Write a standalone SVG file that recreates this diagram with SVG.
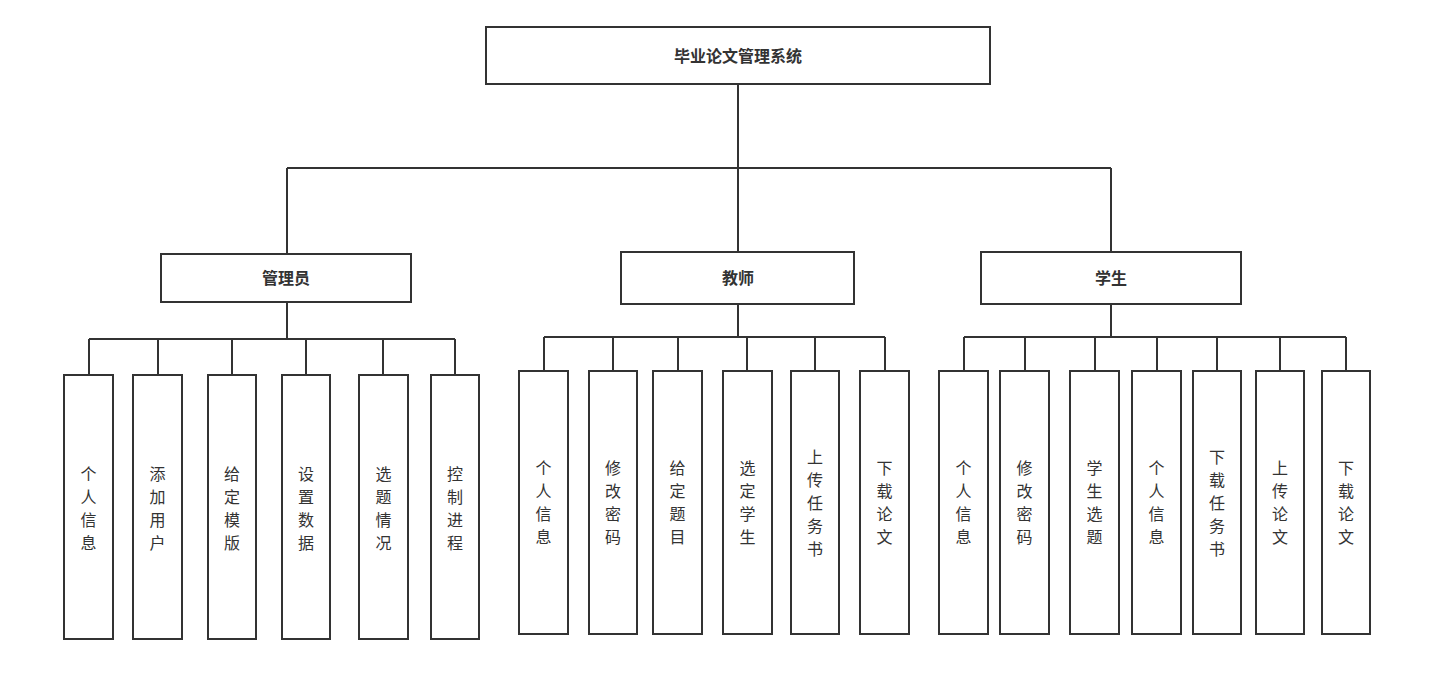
<svg xmlns="http://www.w3.org/2000/svg" width="1442" height="681" viewBox="0 0 1442 681">
<style>
  .box { fill: #ffffff; stroke: #333333; stroke-width: 2; }
  .line { fill: none; stroke: #333333; stroke-width: 2; }
  .title { font-family: "Liberation Sans", "Noto Sans CJK SC", sans-serif; font-size: 16px; font-weight: bold; fill: #333333; text-anchor: middle; dominant-baseline: central; }
  .leaf { font-family: "Liberation Sans", "Noto Sans CJK SC", sans-serif; font-size: 16px; fill: #333333; text-anchor: middle; dominant-baseline: central; }
</style>
<rect width="1442" height="681" fill="#ffffff"/>
<g id="connectors" class="line">
  <path d="M738 84 V168 M287 168 H1111 M287 168 V254 M738 168 V252 M1111 168 V252"/>
  <path d="M287 302 V339 M89 339 H455 M89 339 V375 M158 339 V375 M232 339 V375 M306 339 V375 M383 339 V375 M455 339 V375"/>
  <path d="M738 304 V337 M544 337 H885 M544 337 V371 M613 337 V371 M678 337 V371 M747 337 V371 M815 337 V371 M885 337 V371"/>
  <path d="M1111 304 V337 M964 337 H1346 M964 337 V371 M1025 337 V371 M1095 337 V371 M1157 337 V371 M1217 337 V371 M1280 337 V371 M1346 337 V371"/>
</g>
<g id="root">
  <rect class="box" x="486" y="27" width="504" height="57"/>
  <text class="title" x="738" y="56">毕业论文管理系统</text>
</g>
<g id="admin">
  <rect class="box" x="161" y="254" width="250" height="48"/>
  <text class="title" x="286" y="278">管理员</text>
</g>
<g id="teacher">
  <rect class="box" x="621" y="252" width="233" height="52"/>
  <text class="title" x="738" y="278">教师</text>
</g>
<g id="student">
  <rect class="box" x="981" y="252" width="260" height="52"/>
  <text class="title" x="1111" y="278">学生</text>
</g>
<g id="admin-1"><rect class="box" x="64" y="375" width="49" height="264"/><text class="leaf"><tspan x="88.5" y="473.5">个</tspan><tspan x="88.5" y="496.5">人</tspan><tspan x="88.5" y="519.5">信</tspan><tspan x="88.5" y="542.5">息</tspan></text></g>
<g id="admin-2"><rect class="box" x="133" y="375" width="49" height="264"/><text class="leaf"><tspan x="157.5" y="473.5">添</tspan><tspan x="157.5" y="496.5">加</tspan><tspan x="157.5" y="519.5">用</tspan><tspan x="157.5" y="542.5">户</tspan></text></g>
<g id="admin-3"><rect class="box" x="208" y="375" width="48" height="264"/><text class="leaf"><tspan x="232" y="473.5">给</tspan><tspan x="232" y="496.5">定</tspan><tspan x="232" y="519.5">模</tspan><tspan x="232" y="542.5">版</tspan></text></g>
<g id="admin-4"><rect class="box" x="282" y="375" width="48" height="264"/><text class="leaf"><tspan x="306" y="473.5">设</tspan><tspan x="306" y="496.5">置</tspan><tspan x="306" y="519.5">数</tspan><tspan x="306" y="542.5">据</tspan></text></g>
<g id="admin-5"><rect class="box" x="359" y="375" width="49" height="264"/><text class="leaf"><tspan x="383.5" y="473.5">选</tspan><tspan x="383.5" y="496.5">题</tspan><tspan x="383.5" y="519.5">情</tspan><tspan x="383.5" y="542.5">况</tspan></text></g>
<g id="admin-6"><rect class="box" x="431" y="375" width="48" height="264"/><text class="leaf"><tspan x="455" y="473.5">控</tspan><tspan x="455" y="496.5">制</tspan><tspan x="455" y="519.5">进</tspan><tspan x="455" y="542.5">程</tspan></text></g>
<g id="teacher-1"><rect class="box" x="519" y="371" width="49" height="263"/><text class="leaf"><tspan x="543.5" y="468">个</tspan><tspan x="543.5" y="491">人</tspan><tspan x="543.5" y="514">信</tspan><tspan x="543.5" y="537">息</tspan></text></g>
<g id="teacher-2"><rect class="box" x="589" y="371" width="48" height="263"/><text class="leaf"><tspan x="613" y="468">修</tspan><tspan x="613" y="491">改</tspan><tspan x="613" y="514">密</tspan><tspan x="613" y="537">码</tspan></text></g>
<g id="teacher-3"><rect class="box" x="653" y="371" width="49" height="263"/><text class="leaf"><tspan x="677.5" y="468">给</tspan><tspan x="677.5" y="491">定</tspan><tspan x="677.5" y="514">题</tspan><tspan x="677.5" y="537">目</tspan></text></g>
<g id="teacher-4"><rect class="box" x="723" y="371" width="49" height="263"/><text class="leaf"><tspan x="747.5" y="468">选</tspan><tspan x="747.5" y="491">定</tspan><tspan x="747.5" y="514">学</tspan><tspan x="747.5" y="537">生</tspan></text></g>
<g id="teacher-5"><rect class="box" x="791" y="371" width="48" height="263"/><text class="leaf"><tspan x="815" y="456.5">上</tspan><tspan x="815" y="479.5">传</tspan><tspan x="815" y="502.5">任</tspan><tspan x="815" y="525.5">务</tspan><tspan x="815" y="548.5">书</tspan></text></g>
<g id="teacher-6"><rect class="box" x="860" y="371" width="49" height="263"/><text class="leaf"><tspan x="884.5" y="468">下</tspan><tspan x="884.5" y="491">载</tspan><tspan x="884.5" y="514">论</tspan><tspan x="884.5" y="537">文</tspan></text></g>
<g id="student-1"><rect class="box" x="939" y="371" width="49" height="263"/><text class="leaf"><tspan x="963.5" y="468">个</tspan><tspan x="963.5" y="491">人</tspan><tspan x="963.5" y="514">信</tspan><tspan x="963.5" y="537">息</tspan></text></g>
<g id="student-2"><rect class="box" x="1000" y="371" width="49" height="263"/><text class="leaf"><tspan x="1024.5" y="468">修</tspan><tspan x="1024.5" y="491">改</tspan><tspan x="1024.5" y="514">密</tspan><tspan x="1024.5" y="537">码</tspan></text></g>
<g id="student-3"><rect class="box" x="1070" y="371" width="49" height="263"/><text class="leaf"><tspan x="1094.5" y="468">学</tspan><tspan x="1094.5" y="491">生</tspan><tspan x="1094.5" y="514">选</tspan><tspan x="1094.5" y="537">题</tspan></text></g>
<g id="student-4"><rect class="box" x="1132" y="371" width="49" height="263"/><text class="leaf"><tspan x="1156.5" y="468">个</tspan><tspan x="1156.5" y="491">人</tspan><tspan x="1156.5" y="514">信</tspan><tspan x="1156.5" y="537">息</tspan></text></g>
<g id="student-5"><rect class="box" x="1193" y="371" width="48" height="263"/><text class="leaf"><tspan x="1217" y="456.5">下</tspan><tspan x="1217" y="479.5">载</tspan><tspan x="1217" y="502.5">任</tspan><tspan x="1217" y="525.5">务</tspan><tspan x="1217" y="548.5">书</tspan></text></g>
<g id="student-6"><rect class="box" x="1256" y="371" width="48" height="263"/><text class="leaf"><tspan x="1280" y="468">上</tspan><tspan x="1280" y="491">传</tspan><tspan x="1280" y="514">论</tspan><tspan x="1280" y="537">文</tspan></text></g>
<g id="student-7"><rect class="box" x="1322" y="371" width="48" height="263"/><text class="leaf"><tspan x="1346" y="468">下</tspan><tspan x="1346" y="491">载</tspan><tspan x="1346" y="514">论</tspan><tspan x="1346" y="537">文</tspan></text></g>
</svg>
